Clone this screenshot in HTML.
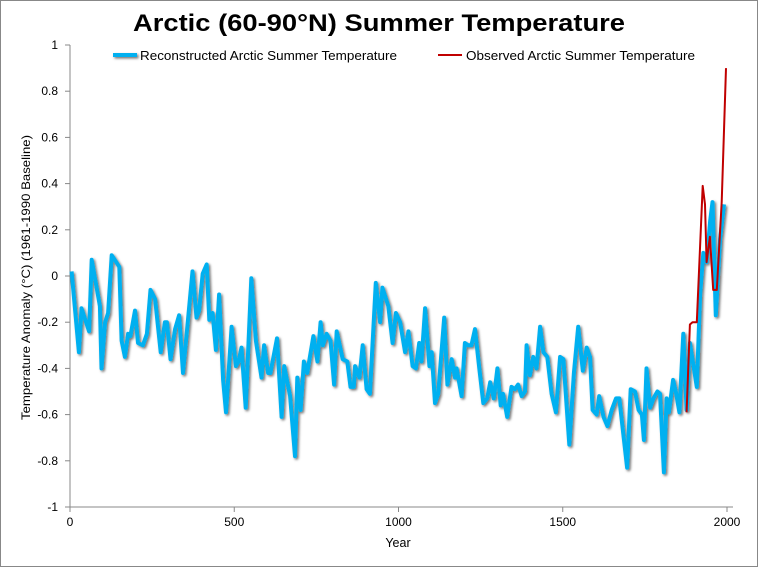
<!DOCTYPE html>
<html><head><meta charset="utf-8"><style>
body{margin:0;background:#fff;}
svg text{font-family:"Liberation Sans",Arial,sans-serif;fill:#000;}
</style></head><body>
<svg id="chart" width="758" height="567" viewBox="0 0 758 567">
<defs><filter id="sh" filterUnits="userSpaceOnUse" x="0" y="0" width="758" height="567"><feDropShadow dx="1.5" dy="1.5" stdDeviation="1.2" flood-color="#000" flood-opacity="0.55"/></filter></defs>
<rect x="0.5" y="0.5" width="757" height="566" fill="#fff" stroke="#888"/>
<text x="133" y="31" font-size="24" font-weight="bold" textLength="492" lengthAdjust="spacingAndGlyphs">Arctic (60-90°N) Summer Temperature</text>
<g>
<line x1="113" y1="55" x2="137" y2="55" stroke="#00b0f0" stroke-width="4" filter="url(#sh)"/>
<text x="140" y="60" font-size="13" textLength="257" lengthAdjust="spacingAndGlyphs">Reconstructed Arctic Summer Temperature</text>
<line x1="438" y1="55" x2="462" y2="55" stroke="#c00000" stroke-width="2"/>
<text x="466" y="60" font-size="13" textLength="229" lengthAdjust="spacingAndGlyphs">Observed Arctic Summer Temperature</text>
</g>
<g id="axes"></g>
<g id="series"></g>
<text x="398" y="547" font-size="12.5" text-anchor="middle">Year</text>
<text transform="translate(30,420) rotate(-90)" font-size="12" textLength="285" lengthAdjust="spacingAndGlyphs">Temperature  Anomaly (°C) (1961-1990  Baseline)</text>
</svg>
<script>
const recYears=[5,27,35,58,66,91,96,107,116,127,150,157,167,177,184,198,207,222,234,245,259,276,289,295,306,320,332,344,373,385,393,404,416,424,434,444,454,466,475,492,505,513,522,535,552,566,583,591,603,610,630,644,652,670,685,692,702,712,722,741,753,763,770,781,793,804,812,830,844,854,864,868,881,891,903,913,931,944,951,969,982,992,1005,1020,1030,1043,1053,1063,1070,1081,1094,1101,1111,1121,1139,1149,1162,1172,1177,1192,1202,1212,1222,1233,1246,1258,1270,1279,1290,1301,1311,1318,1331,1344,1354,1364,1375,1385,1390,1400,1410,1420,1431,1441,1453,1466,1479,1492,1502,1520,1534,1547,1561,1573,1583,1591,1603,1611,1624,1636,1649,1662,1672,1684,1696,1707,1720,1731,1741,1747,1755,1766,1776,1788,1796,1808,1816,1823,1836,1844,1855,1867,1877,1887,1908,1918,1928,1938,1949,1956,1966,1979,1991];
const recValues=[0.02,-0.33,-0.14,-0.24,0.07,-0.13,-0.40,-0.2,-0.16,0.09,0.04,-0.28,-0.35,-0.25,-0.26,-0.15,-0.29,-0.30,-0.25,-0.06,-0.1,-0.33,-0.2,-0.2,-0.36,-0.23,-0.17,-0.42,0.02,-0.18,-0.15,0.01,0.05,-0.19,-0.16,-0.32,-0.08,-0.45,-0.59,-0.22,-0.39,-0.37,-0.31,-0.57,-0.01,-0.28,-0.44,-0.30,-0.42,-0.42,-0.27,-0.61,-0.39,-0.52,-0.78,-0.44,-0.58,-0.37,-0.42,-0.26,-0.37,-0.2,-0.3,-0.25,-0.28,-0.47,-0.24,-0.36,-0.37,-0.48,-0.48,-0.39,-0.44,-0.3,-0.49,-0.51,-0.03,-0.2,-0.05,-0.13,-0.29,-0.16,-0.2,-0.33,-0.24,-0.39,-0.4,-0.29,-0.37,-0.14,-0.39,-0.33,-0.55,-0.51,-0.18,-0.47,-0.36,-0.44,-0.4,-0.52,-0.29,-0.3,-0.3,-0.23,-0.4,-0.55,-0.53,-0.46,-0.53,-0.4,-0.56,-0.51,-0.61,-0.48,-0.49,-0.47,-0.52,-0.5,-0.3,-0.43,-0.35,-0.4,-0.22,-0.33,-0.35,-0.51,-0.59,-0.35,-0.36,-0.73,-0.42,-0.22,-0.41,-0.31,-0.35,-0.58,-0.6,-0.52,-0.61,-0.65,-0.58,-0.53,-0.53,-0.68,-0.83,-0.49,-0.5,-0.58,-0.6,-0.71,-0.4,-0.57,-0.53,-0.5,-0.51,-0.85,-0.53,-0.59,-0.45,-0.5,-0.59,-0.25,-0.58,-0.29,-0.48,-0.08,0.1,0.06,0.24,0.32,-0.17,0.16,0.31];
const obsYears=[1877,1887,1895,1908,1926,1933,1938,1948,1958,1969,1984,1997];
const obsValues=[-0.59,-0.21,-0.2,-0.2,0.39,0.31,0.06,0.17,-0.06,-0.06,0.32,0.9];
const yTicks=[1,0.8,0.6,0.4,0.2,0,-0.2,-0.4,-0.6,-0.8,-1];
const yTickLabels=["1","0.8","0.6","0.4","0.2","0","-0.2","-0.4","-0.6","-0.8","-1"];
const xTicks=[0,500,1000,1500,2000];
const xTickLabels=["0","500","1000","1500","2000"];

const X0=70,X1=727,XMAX=2000,Y0=507,Y1=45;
const xs=v=>X0+(v/XMAX)*(X1-X0);
const ys=v=>Y0-(v+1)/2*(Y0-Y1);
const NS="http://www.w3.org/2000/svg";
const axes=document.getElementById('axes'),series=document.getElementById('series');
function mk(tag,attrs,parent){const e=document.createElementNS(NS,tag);for(const k in attrs)e.setAttribute(k,attrs[k]);parent.appendChild(e);return e;}
let yl=mk('line',{x1:X0,y1:Y1,x2:X0,y2:Y0,stroke:'#888','stroke-width':1},axes);


let xl=mk('line',{x1:X0,y1:Y0,x2:X1+6,y2:Y0,stroke:'#888','stroke-width':1},axes);


yTicks.forEach((t,i)=>{
 const y=ys(t);
 const tk=mk('line',{x1:X0-5,y1:y,x2:X0,y2:y,stroke:'#888'},axes);
 
 
 const tx=mk('text',{x:X0-12,y:y+4,'font-size':12,'text-anchor':'end'},axes);
 tx.textContent=yTickLabels[i];
 
 
});
xTicks.forEach((t,i)=>{
 const x=xs(t);
 const tk=mk('line',{x1:x,y1:Y0,x2:x,y2:Y0+5,stroke:'#888'},axes);
 
 
 const tx=mk('text',{x:x,y:Y0+19,'font-size':12,'text-anchor':'middle'},axes);
 tx.textContent=xTickLabels[i];
 
 
});
const rp=recYears.map((yr,i)=>xs(yr).toFixed(1)+','+ys(recValues[i]).toFixed(1)).join(' ');
const rl=mk('polyline',{points:rp,fill:'none',stroke:'#00b0f0','stroke-width':4,'stroke-linejoin':'round',filter:'url(#sh)'},series);


const op=obsYears.map((yr,i)=>xs(yr).toFixed(1)+','+ys(obsValues[i]).toFixed(1)).join(' ');
const ol=mk('polyline',{points:op,fill:'none',stroke:'#c00000','stroke-width':2,'stroke-linejoin':'round'},series);


</script>
</body></html>
